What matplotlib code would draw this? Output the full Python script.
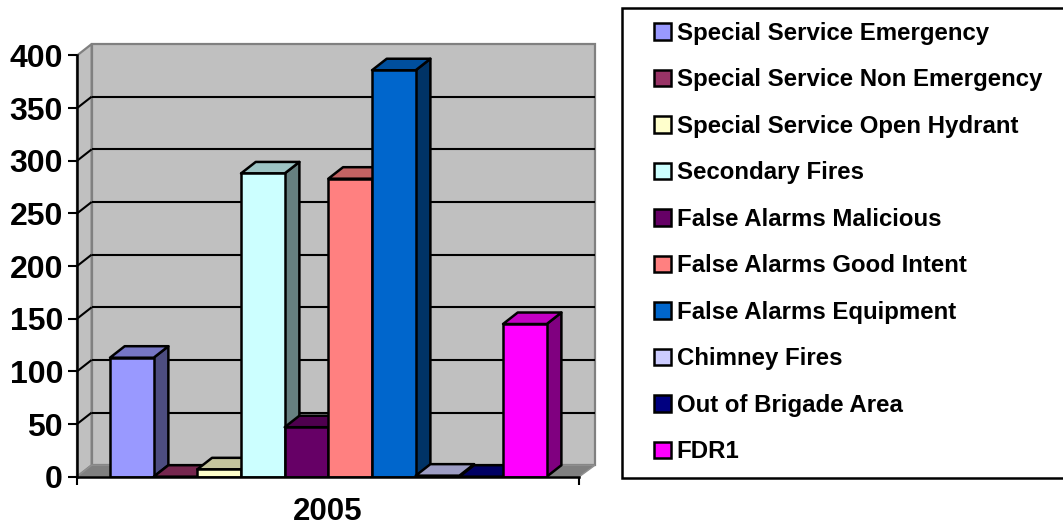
import matplotlib
matplotlib.use("Agg")
import matplotlib.pyplot as plt
from matplotlib.patches import Polygon, Rectangle

plt.rcParams['font.family'] = ['Liberation Sans', 'DejaVu Sans']
plt.rcParams['font.weight'] = 'bold'

categories = ["Special Service Emergency", "Special Service Non Emergency",
              "Special Service Open Hydrant", "Secondary Fires",
              "False Alarms Malicious", "False Alarms Good Intent",
              "False Alarms Equipment", "Chimney Fires",
              "Out of Brigade Area", "FDR1"]
values = [113, 0, 7, 288, 47, 283, 386, 1, 0, 145]
colors = ["#9999ff", "#993366", "#ffffcc", "#ccffff", "#660066",
          "#ff8080", "#0066cc", "#ccccff", "#000080", "#ff00ff"]
year = "2005"
yticks = [0, 50, 100, 150, 200, 250, 300, 350, 400]

W, H = 1063, 526
LEFT, RIGHT, BOTTOM, TOP = 77, 595, 476.7, 44
BAR_L, BAR_W = 110, 43.67
DX_PX, DY_PX = 14.7, 11.5
YMAX = 400
LW = 1.5
BAR_LW = 1.8

def shade(c, f):
    r, g, b = matplotlib.colors.to_rgb(c)
    return (r * f, g * f, b * f)

fig = plt.figure(figsize=(W / 100, H / 100), dpi=100, facecolor="white")
ax = fig.add_axes([LEFT / W, 1 - BOTTOM / H, (RIGHT - LEFT) / W, (BOTTOM - TOP) / H])

to_x = lambda px: (px - BAR_L) / BAR_W - 0.5
xlo, xhi = to_x(LEFT), to_x(RIGHT)
xfront = to_x(RIGHT - DX_PX - 1)
ppu = (BOTTOM - TOP - DY_PX) / YMAX
ddy = DY_PX / ppu
ddx = DX_PX / BAR_W
ax.set_xlim(xlo, xhi)
ax.set_ylim(0, YMAX + ddy)
ax.patch.set_visible(False)

# walls and floor
ax.add_patch(Polygon([(xlo, 0), (xlo + ddx, ddy), (xlo + ddx, YMAX + ddy), (xlo, YMAX)],
                     fc="#c0c0c0", ec="#808080", lw=1.6, zorder=1, clip_on=False))
ax.add_patch(Rectangle((xlo + ddx, ddy), xhi - xlo - ddx, YMAX,
                       fc="#c0c0c0", ec="#808080", lw=1.6, zorder=1, clip_on=False))
ax.add_patch(Polygon([(xlo, 0), (xlo + ddx, ddy), (xhi, ddy), (xfront, 0)],
                     fc="#808080", ec="#909090", lw=1, zorder=1.5))
for v in yticks[1:-1]:
    ax.plot([xlo, xlo + ddx], [v, v + ddy], color="black", lw=LW, zorder=2, solid_capstyle="butt")
    ax.plot([xlo + ddx, xhi], [v + ddy, v + ddy], color="black", lw=LW, zorder=2, solid_capstyle="butt")

# bars
xs = list(range(len(values)))
for i, (x, v, c, name) in enumerate(zip(xs, values, colors, categories)):
    z = 3 + i
    l, r = x - 0.5, x + 0.5
    ax.add_patch(Polygon([(r, 0), (r + ddx, ddy), (r + ddx, v + ddy), (r, v)],
                         fc=shade(c, 0.5), ec="black", lw=BAR_LW, zorder=z, joinstyle="round"))
    ax.add_patch(Polygon([(l, v), (l + ddx, v + ddy), (r + ddx, v + ddy), (r, v)],
                         fc=shade(c, 0.77), ec="black", lw=BAR_LW, zorder=z, joinstyle="round"))
    ax.bar(x, v, width=1, color=c, edgecolor="black", linewidth=BAR_LW, zorder=z + 0.5, label=name)

# axes
for s in ("top", "right"):
    ax.spines[s].set_visible(False)
for s in ("left", "bottom"):
    ax.spines[s].set_linewidth(BAR_LW)
    ax.spines[s].set_zorder(20)
ax.spines["left"].set_bounds(0, YMAX)
ax.spines["bottom"].set_bounds(xlo, xfront)
ax.set_yticks(yticks)
ax.tick_params(axis="y", length=6.5, width=LW, labelsize=23, pad=3.5)
ax.set_xticks([xlo, xfront])
ax.set_xticklabels(["", ""])
ax.tick_params(axis="x", which="major", length=5.5, width=LW)
ax.set_xticks([(xlo + xfront) / 2], [year], minor=True)
ax.tick_params(axis="x", which="minor", length=0, labelsize=22.5, pad=14.5)

# legend frame and entries
fig.add_artist(Rectangle((622 / W, 1 - 478 / H), (W + 6 - 622) / W, 470 / H,
                         transform=fig.transFigure, fc="white", ec="black", lw=BAR_LW))
leg = fig.legend(*ax.get_legend_handles_labels(),
                 loc="upper left",
                 bbox_to_anchor=(654 / W, 1 - 22 / H),
                 bbox_transform=fig.transFigure, borderaxespad=0,
                 fontsize=17.25, frameon=False, handlelength=0.7, handleheight=0.7,
                 handletextpad=0.25, labelspacing=0.98, borderpad=0, ncol=1)
for t in leg.get_texts():
    t.set_fontweight("bold")

fig.savefig("out.png", dpi=100)
